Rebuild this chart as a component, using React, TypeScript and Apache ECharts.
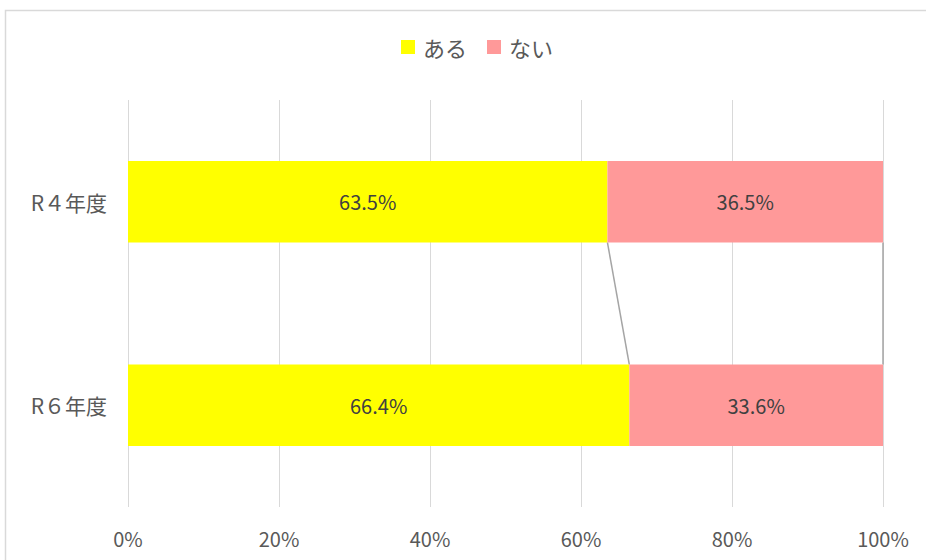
import React, { useEffect, useRef } from "react";
import * as echarts from "echarts";

const categories = ["R４年度", "R６年度"];
const seriesNames = ["ある", "ない"];
const aruValues = [63.5, 66.4];
const naiValues = [36.5, 33.6];
const xTicks = [0, 20, 40, 60, 80, 100];

const FONT = "'Noto Sans CJK JP', 'Noto Sans', sans-serif";

export default function App() {
  const ref = useRef<HTMLDivElement>(null);
  useEffect(() => {
    document.body.style.margin = "0";
    const chart = echarts.init(ref.current!, null, { renderer: "svg" });
    const cum1 = aruValues;
    const cum2 = aruValues.map((v, i) => v + naiValues[i]);
    const connectorData = [
      [cum1[0], cum1[1]],
      [cum2[0], cum2[1]],
    ];
    const labelCfg = {
      show: true,
      position: "inside",
      formatter: (p: any) => p.value.toFixed(1) + "%",
      fontSize: 20,
      color: "#404040",
      fontFamily: FONT,
    };
    chart.setOption({
      animation: false,
      textStyle: { fontFamily: FONT },
      graphic: [
        {
          type: "rect",
          shape: { x: 5.5, y: 10.5, width: 1200, height: 1200 },
          style: { fill: "none", stroke: "#D9D9D9", lineWidth: 1.5 },
          silent: true,
          z: -10,
        },
      ],
      legend: {
        top: 31,
        left: 396,
        itemWidth: 14,
        itemHeight: 14,
        itemGap: 20,
        icon: "rect",
        data: seriesNames,
        textStyle: { fontSize: 22, color: "#595959", fontFamily: FONT, padding: [0, 0, 0, 3] },
      },
      grid: { left: 128, right: 43, top: 100, bottom: 53 },
      xAxis: {
        type: "value",
        min: 0,
        max: 100,
        interval: 20,
        axisLine: { show: false },
        axisTick: { show: false },
        splitLine: { lineStyle: { color: "#D9D9D9", width: 1 } },
        axisLabel: {
          formatter: (v: number) => (xTicks.includes(v) ? v + "%" : ""),
          fontSize: 20,
          color: "#595959",
          margin: 21,
          fontFamily: FONT,
        },
      },
      yAxis: {
        type: "category",
        data: categories,
        inverse: true,
        axisLine: { show: false },
        axisTick: { show: false },
        axisLabel: { fontSize: 21, color: "#595959", margin: 21, fontFamily: FONT },
      },
      series: [
        {
          name: seriesNames[0],
          type: "bar",
          stack: "total",
          barCategoryGap: "60%",
          data: aruValues,
          itemStyle: { color: "#FFFF00" },
          label: labelCfg,
        },
        {
          name: seriesNames[1],
          type: "bar",
          stack: "total",
          barCategoryGap: "60%",
          data: naiValues,
          itemStyle: { color: "#FF9999" },
          label: labelCfg,
        },
        {
          type: "custom",
          silent: true,
          data: connectorData,
          encode: { x: [0, 1] },
          renderItem: (params: any, api: any) => {
            const v0 = api.value(0);
            const v1 = api.value(1);
            const band = api.size([0, 1])[1];
            const half = (band * 0.4) / 2;
            const p0 = api.coord([v0, 0]);
            const p1 = api.coord([v1, 1]);
            return {
              type: "line",
              shape: { x1: p0[0], y1: p0[1] + half, x2: p1[0], y2: p1[1] - half },
              style: { stroke: "#A5A5A5", lineWidth: 1.5 },
            };
          },
          z: 1,
        },
      ],
    });
    return () => chart.dispose();
  }, []);
  return <div ref={ref} style={{ width: 926, height: 560 }} />;
}
